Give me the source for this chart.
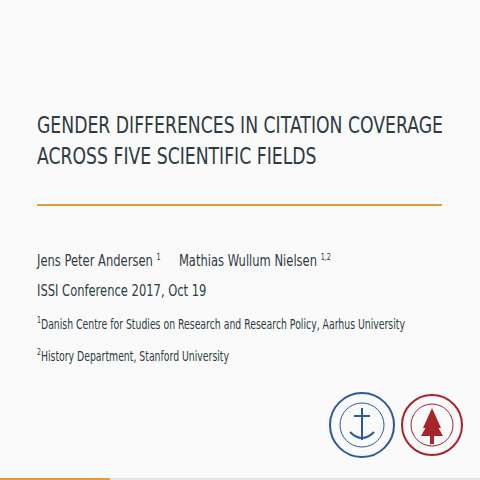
<!DOCTYPE html>
<html><head><meta charset="utf-8">
<script src="https://cdn.jsdelivr.net/npm/chart.js@4"></script>
<style>
body{margin:0;width:480px;height:480px;background:#fafafa;font-family:"DejaVu Sans",sans-serif;color:#2f3b42;position:relative;overflow:hidden}
.t,.l{position:absolute;left:37px;white-space:nowrap;transform-origin:0 0}
.t{font-size:23px;line-height:31px;top:110px;transform:scaleX(0.75)}
.rule{position:absolute;left:37px;top:204px;width:405px;height:2px;background:#e69a3c}
.l{font-size:16px;transform:scaleX(0.72)}
.s{font-size:13.5px;transform:scaleX(0.69)}
sup{font-size:9px}
#logos{position:absolute;left:326px;top:390px}
.bar{position:absolute;left:0;bottom:0;width:480px;height:2px;background:#e8e8e8}
.bar2{position:absolute;left:0;bottom:0;width:110px;height:2px;background:#e69a3c}
</style></head><body>
<div class="t">GENDER DIFFERENCES IN CITATION COVERAGE<br>ACROSS FIVE SCIENTIFIC FIELDS</div>
<div class="rule"></div>
<div class="l" style="top:251px">Jens Peter Andersen <sup>1</sup> &nbsp;&nbsp;&nbsp; Mathias Wullum Nielsen <sup>1,2</sup></div>
<div class="l" style="top:281px">ISSI Conference 2017, Oct 19</div>
<div class="l s" style="top:315px"><sup>1</sup>Danish Centre for Studies on Research and Research Policy, Aarhus University</div>
<div class="l s" style="top:347px"><sup>2</sup>History Department, Stanford University</div>
<svg id="logos" width="140" height="80">
<circle cx="36" cy="35" r="32" fill="none" stroke="#2a5a9a" stroke-width="2"/>
<circle cx="36" cy="35" r="22" fill="none" stroke="#2a5a9a" stroke-width="1"/>
<path d="M36 18v32M28 26h16M24 42q12 12 24 0" stroke="#2a5a9a" stroke-width="2" fill="none"/>
<circle cx="106" cy="35" r="30" fill="none" stroke="#a8242b" stroke-width="2"/>
<circle cx="106" cy="35" r="21" fill="none" stroke="#a8242b" stroke-width="1"/>
<path d="M106 18l-9 20h18zM106 26l-11 20h22zM104 46h4v8h-4z" fill="#a8242b"/>
</svg>
<div class="bar"></div><div class="bar2"></div>
<canvas id="c" width="1" height="1" style="display:none"></canvas>
</body></html>
